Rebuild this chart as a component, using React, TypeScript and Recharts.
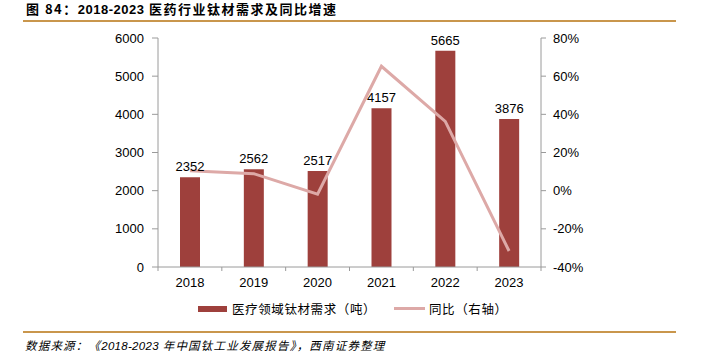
import React from "react";
import {
  ComposedChart,
  Bar,
  Line,
  XAxis,
  YAxis,
  LabelList,
  Legend,
} from "recharts";

const years = ["2018", "2019", "2020", "2021", "2022", "2023"];
const demand = [2352, 2562, 2517, 4157, 5665, 3876];
const yoy = [10.5, 8.9, -1.8, 65.2, 36.3, -31.6];
const leftTicks = [0, 1000, 2000, 3000, 4000, 5000, 6000];
const rightTicks = [-40, -20, 0, 20, 40, 60, 80];

const data = years.map((year, i) => ({ year, demand: demand[i], yoy: yoy[i] }));

const BAR_COLOR = "#9E403C";
const LINE_COLOR = "#DDA9A7";
const AXIS_COLOR = "#9A9A9A";
const RULE_COLOR = "#C9964C";
const FONT = "'Liberation Sans', Arial, sans-serif";
const CJK = "'Noto Sans CJK SC', sans-serif";

const PLOT_LEFT = 158;
const PLOT_RIGHT = 541;
const BAND = (PLOT_RIGHT - PLOT_LEFT) / years.length;

// category ticks sit on the band boundaries, labels in the middle
const YearTick = (props: any) => {
  const { x, y, payload, index } = props;
  const left = x - BAND / 2;
  return (
    <g>
      <line x1={left} y1={y - 8} x2={left} y2={y - 4} stroke={AXIS_COLOR} />
      {index === years.length - 1 && (
        <line x1={x + BAND / 2} y1={y - 8} x2={x + BAND / 2} y2={y - 4} stroke={AXIS_COLOR} />
      )}
      <text x={x} y={y + 12} textAnchor="middle" fontSize={13} fontFamily={FONT} fill="#000">
        {payload.value}
      </text>
    </g>
  );
};

const LegendBox = () => (
  <div
    style={{
      position: "relative",
      height: 20,
      fontFamily: CJK,
      fontSize: 12.5,
      letterSpacing: 0.6,
      color: "#000",
    }}
  >
    <div style={{ position: "absolute", left: 198, top: 7, width: 29, height: 6, background: BAR_COLOR }} />
    <div style={{ position: "absolute", left: 232, top: 0, lineHeight: "20px", whiteSpace: "nowrap" }}>
      医疗领域钛材需求（吨）
    </div>
    <div style={{ position: "absolute", left: 394, top: 8, width: 31, height: 3, background: LINE_COLOR }} />
    <div style={{ position: "absolute", left: 429, top: 0, lineHeight: "20px", whiteSpace: "nowrap" }}>
      同比（右轴）
    </div>
  </div>
);

export default function App() {
  return (
    <div style={{ position: "absolute", left: 0, top: 0, width: 701, height: 356, background: "#fff" }}>
      <div
        style={{
          position: "absolute",
          left: 26,
          top: 1,
          fontFamily: CJK,
          fontWeight: 700,
          fontSize: 13,
          letterSpacing: 1.5,
          lineHeight: "16px",
          color: "#000",
          whiteSpace: "nowrap",
        }}
      >
        图 84：<span style={{ fontFamily: FONT, letterSpacing: 0.5 }}>2018-2023</span> 医药行业钛材需求及同比增速
      </div>
      <div style={{ position: "absolute", left: 23, top: 20, width: 653, height: 1.5, background: RULE_COLOR }} />

      <div style={{ position: "absolute", left: 0, top: 0 }}>
        <ComposedChart
          width={701}
          height={325}
          data={data}
          margin={{ top: 38, right: 110, bottom: 18, left: 108 }}
        >
          <XAxis
            dataKey="year"
            axisLine={{ stroke: AXIS_COLOR }}
            tickLine={false}
            tick={<YearTick />}
            height={20}
            interval={0}
          />
          <YAxis
            yAxisId="left"
            domain={[0, 6000]}
            ticks={leftTicks}
            width={50}
            axisLine={{ stroke: AXIS_COLOR }}
            tickLine={{ stroke: AXIS_COLOR }}
            tickSize={6}
            tickMargin={8}
            tick={{ fontSize: 13, fontFamily: FONT, fill: "#000" }}
          />
          <YAxis
            yAxisId="right"
            orientation="right"
            domain={[-40, 80]}
            ticks={rightTicks}
            tickFormatter={(v) => `${v}%`}
            width={50}
            axisLine={{ stroke: AXIS_COLOR }}
            tickLine={{ stroke: AXIS_COLOR }}
            tickSize={5}
            tickMargin={7}
            tick={{ fontSize: 13, fontFamily: FONT, fill: "#000" }}
          />
          <Legend
            verticalAlign="bottom"
            content={() => <LegendBox />}
            wrapperStyle={{ left: 0, width: 701, bottom: 6 }}
          />
          <Bar yAxisId="left" dataKey="demand" fill={BAR_COLOR} barSize={20} isAnimationActive={false}>
            <LabelList
              dataKey="demand"
              position="top"
              offset={6}
              style={{ fontSize: 13, fontFamily: FONT, fill: "#000" }}
            />
          </Bar>
          <Line
            yAxisId="right"
            dataKey="yoy"
            stroke={LINE_COLOR}
            strokeWidth={3}
            dot={false}
            activeDot={false}
            isAnimationActive={false}
          />
        </ComposedChart>
      </div>

      <div style={{ position: "absolute", left: 23, top: 331, width: 653, height: 1.5, background: RULE_COLOR }} />
      <div
        style={{
          position: "absolute",
          left: 25,
          top: 337,
          fontFamily: CJK,
          fontStyle: "italic",
          fontSize: 11.5,
          letterSpacing: 1.2,
          lineHeight: "16px",
          color: "#000",
          whiteSpace: "nowrap",
        }}
      >
        数据来源：《<span style={{ fontFamily: FONT, letterSpacing: 0.3 }}>2018-2023</span> 年中国钛工业发展报告》，西南证券整理
      </div>
    </div>
  );
}
